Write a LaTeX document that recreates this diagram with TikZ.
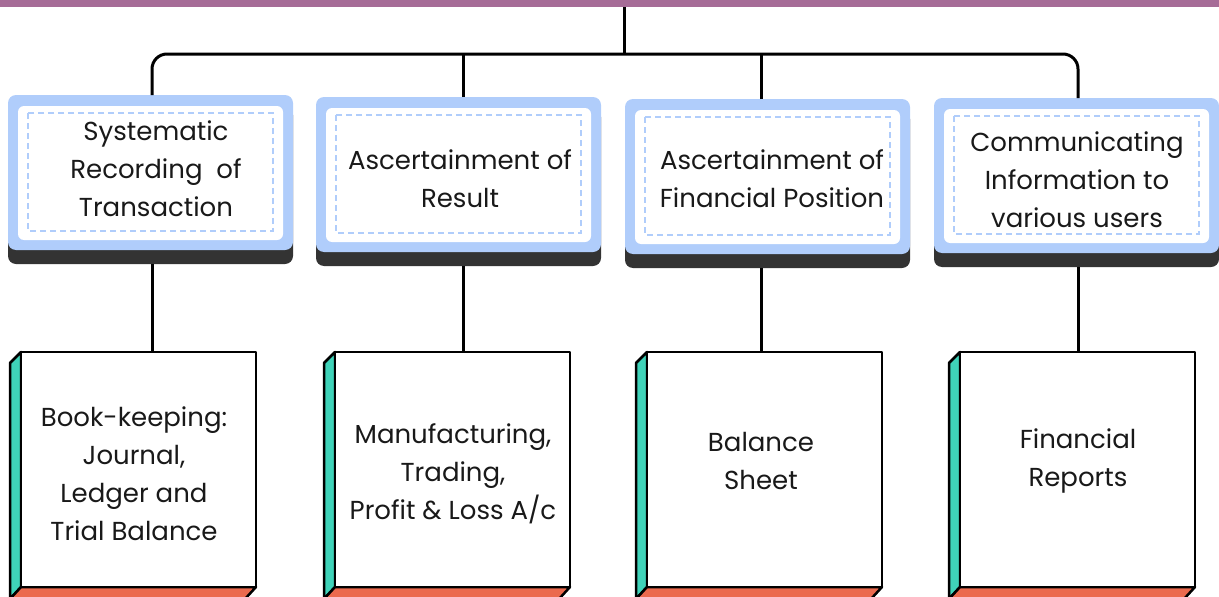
\documentclass[tikz,border=0pt]{standalone}
\usepackage{fontspec}
\setmainfont{Poppins}
\definecolor{barpurple}{HTML}{A66C97}
\definecolor{boxblue}{HTML}{B0CDFB}
\definecolor{shadowgrey}{HTML}{333333}
\definecolor{sideteal}{HTML}{3FD3B9}
\definecolor{sidecoral}{HTML}{EB6A4E}
\newcommand\topcard[7]{% #1 L, #2 T, #3 name, #4 tx, #5 ty, #6 connector x, #7 text
  \fill[shadowgrey, rounded corners=8pt] (#1,#2+12) rectangle (#1+285,#2+169);
  \fill[boxblue, rounded corners=8pt] (#1,#2) rectangle (#1+285,#2+155);
  \fill[white, rounded corners=6pt] (#1+10,#2+11) rectangle (#1+275,#2+145);
  \draw[dashbox] (#1+20,#2+18) rectangle (#1+265,#2+136);
  \node[cardtext] (#3) at (#4,#5) {#7};
  \coordinate (#3n) at (#6,#2);
  \coordinate (#3s) at (#6,#2+169);
}
\newcommand\bottomcard[5]{% #1 L, #2 name, #3 tx, #4 ty, #5 text
  \filldraw[fill=sideteal, boxline] (#1,352) -- (#1-11,363) -- (#1-11,599) -- (#1,587) -- cycle;
  \filldraw[fill=sidecoral, boxline] (#1,587) -- (#1-11,599) -- (#1+224,599) -- (#1+235,587) -- cycle;
  \filldraw[fill=white, boxline] (#1,352) rectangle (#1+235,587);
  \node[cardtext] (#2) at (#3,#4) {#5};
}
\begin{document}
\begin{tikzpicture}[x=1pt,y=-1pt,
  conn/.style={line width=3pt, black},
  boxline/.style={draw=black, line width=2.5pt, line join=round},
  dashbox/.style={draw=boxblue, line width=1.5pt, dash pattern=on 6pt off 4pt},
  cardtext/.style={align=center, text=black!90, inner sep=0pt, font=\fontsize{26}{38}\selectfont}]
\useasboundingbox (0,0) rectangle (1219,597);
\fill[barpurple] (0,0) rectangle (1219,7);

\topcard{8}{95}{t1}{156}{169}{152}{Systematic\\Recording\ \ of\\Transaction}
\topcard{316}{97}{t2}{460}{179}{463}{Ascertainment of\\Result}
\topcard{625}{99}{t3}{772}{179}{761}{Ascertainment of\\Financial Position}
\topcard{934}{98}{t4}{1077}{180}{1078}{Communicating\\Information to\\various users}

\bottomcard{21}{b1}{134}{474}{Book-keeping:\\Journal,\\Ledger and\\Trial Balance}
\bottomcard{335}{b2}{453}{474}{Manufacturing,\\Trading,\\Profit \& Loss A/c}
\bottomcard{647}{b3}{761}{461}{Balance\\Sheet}
\bottomcard{960}{b4}{1078}{461}{Financial\\Reports}

\coordinate (hub) at (624,7);
\coordinate (junction) at (624,54);
\coordinate (b1n) at (152,352);
\coordinate (b2n) at (463,352);
\coordinate (b3n) at (761,352);
\coordinate (b4n) at (1078,352);

\draw[conn] (hub) -- (junction);
\draw[conn, rounded corners=15pt] (t1n) |- (junction) -| (t4n);
\draw[conn] (t2n) -- (t2n |- junction);
\draw[conn] (t3n) -- (t3n |- junction);
\draw[conn] (t1s) -- (b1n);
\draw[conn] (t2s) -- (b2n);
\draw[conn] (t3s) -- (b3n);
\draw[conn] (t4s) -- (b4n);
\end{tikzpicture}
\end{document}
